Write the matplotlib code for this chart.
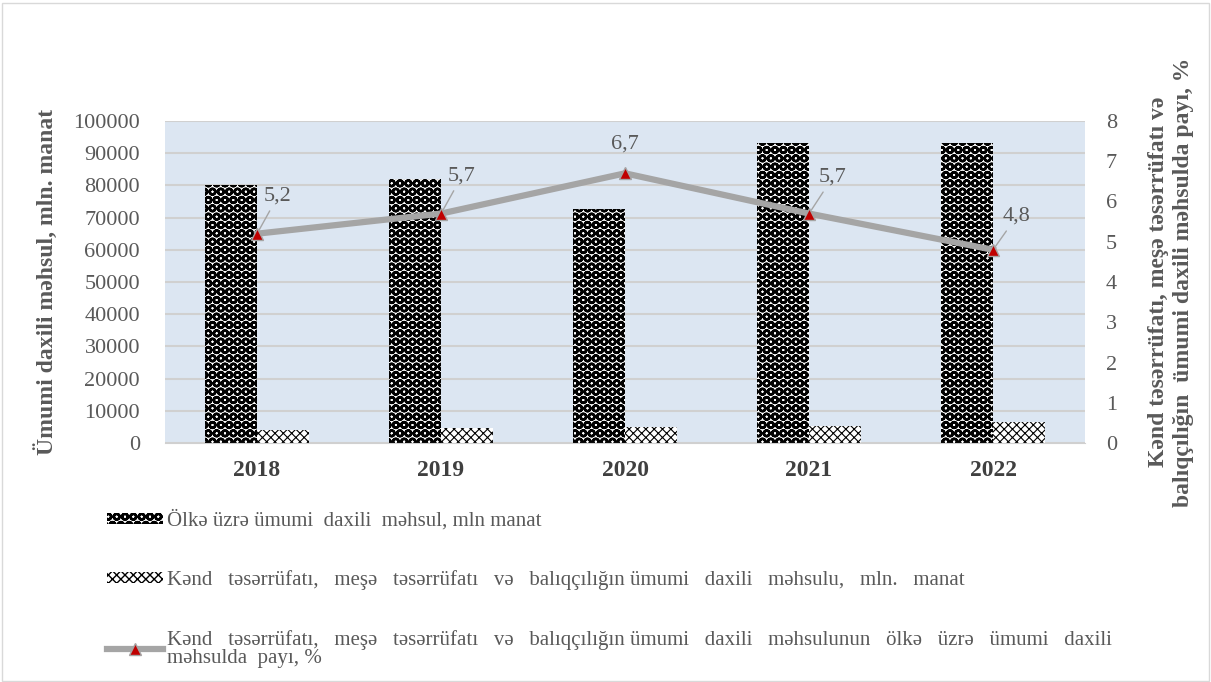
import matplotlib.pyplot as plt
import numpy as np
from matplotlib.patches import Patch, Rectangle
from matplotlib.lines import Line2D

years = ["2018", "2019", "2020", "2021", "2022"]
gdp_total = [80100, 81900, 72600, 93200, 93200]
gdp_agri = [4100, 4700, 4900, 5300, 6400]
agri_share = [5.2, 5.7, 6.7, 5.7, 4.8]
share_labels = ["5,2", "5,7", "6,7", "5,7", "4,8"]
# label offsets (points) relative to the marker
label_offsets = [(15, 27), (15, 27), (0, 21), (17, 26), (17, 24)]

label_total = "Ölkə üzrə ümumi  daxili  məhsul, mln manat"
label_agri = ("Kənd   təsərrüfatı,   meşə   təsərrüfatı   və   balıqçılığın ümumi   daxili   "
              "məhsulu,   mln.   manat")
label_share = ("Kənd   təsərrüfatı,   meşə   təsərrüfatı   və   balıqçılığın ümumi   daxili   "
               "məhsulunun   ölkə   üzrə   ümumi   daxili\nməhsulda  payı, %")

plt.rcParams["font.family"] = ["Liberation Serif", "DejaVu Serif"]
text_gray = "#595959"

fig = plt.figure(figsize=(12.11, 6.82), dpi=100)
ax = fig.add_axes([0.1363, 0.3504, 0.7597, 0.4722])
ax.set_facecolor("#DCE6F2")

x = np.arange(len(years))
width = 0.283

b1 = ax.bar(x - width / 2, gdp_total, width=width, color="white", edgecolor="black",
            hatch="OO", linewidth=0, zorder=2)
b2 = ax.bar(x + width / 2, gdp_agri, width=width, color="white", edgecolor="black",
            hatch="xxxx", linewidth=0, zorder=2)
for p in b1:
    if hasattr(p, "set_hatch_linewidth"):
        p.set_hatch_linewidth(1.8)
for p in b2:
    if hasattr(p, "set_hatch_linewidth"):
        p.set_hatch_linewidth(0.8)

ax.set_xlim(-0.5, 4.5)
ax.set_ylim(0, 100000)
ax.set_yticks(np.arange(0, 100001, 10000))
ax.yaxis.grid(True, color="#D0D0D0", linewidth=1.5, zorder=0)
ax.set_axisbelow(True)
ax.set_xticks(x)
ax.set_xticklabels(years, fontsize=17, fontweight="bold", color="#404040")
ax.tick_params(axis="y", labelsize=16, colors=text_gray, length=0, pad=18)
ax.tick_params(axis="x", length=0, pad=12)
for s in ["top", "left", "right"]:
    ax.spines[s].set_visible(False)
ax.spines["bottom"].set_color("#D0D0D0")
ax.set_ylabel("Ümumi daxili məhsul, mln. manat", fontsize=17, fontweight="bold",
              color=text_gray, labelpad=11)

ax2 = ax.twinx()
ax2.plot(x, agri_share, color="#A5A5A5", linewidth=4.5, marker="^", markersize=9,
         markerfacecolor="#C00000", markeredgecolor="#A5A5A5", markeredgewidth=1, zorder=3)
ax2.set_ylim(0, 8)
ax2.set_yticks(range(0, 9))
ax2.tick_params(axis="y", labelsize=16, colors=text_gray, length=0, pad=15)
for s in ["top", "left", "right", "bottom"]:
    ax2.spines[s].set_visible(False)
ax2.set_ylabel("Kənd təsərrüfatı, meşə təsərrüfatı və\nbalıqçılığın  ümumi daxili məhsulda payı, %",
               fontsize=17, fontweight="bold", color=text_gray, labelpad=22, linespacing=1.3)

for xi, yi, lab, off in zip(x, agri_share, share_labels, label_offsets):
    arrow = None if off[0] == 0 else dict(arrowstyle="-", color="#A5A5A5", lw=1,
                                          shrinkA=2, shrinkB=3)
    ax2.annotate(lab, (xi, yi), xytext=off, textcoords="offset points",
                 ha="center", va="center",
                 fontsize=16, color=text_gray, arrowprops=arrow)

handles = [
    Patch(facecolor="white", edgecolor="black", hatch="OO", linewidth=0),
    Patch(facecolor="white", edgecolor="black", hatch="xxxx", linewidth=0),
    Line2D([0], [0], color="#A5A5A5", linewidth=4.5, marker="^", markersize=8,
           markerfacecolor="#C00000", markeredgecolor="#A5A5A5"),
]
leg = fig.legend(handles, [label_total, label_agri, label_share], loc="upper left",
                 bbox_to_anchor=(0.088, 0.252), frameon=False, fontsize=15,
                 handlelength=2.7, handleheight=0.45, handletextpad=0.2,
                 labelspacing=1.9, borderpad=0, borderaxespad=0)
for t in leg.get_texts():
    t.set_color(text_gray)
    t.set_linespacing(0.95)
for h in leg.legend_handles[:1]:
    if hasattr(h, "set_hatch_linewidth"):
        h.set_hatch_linewidth(1.8)

fig.add_artist(Rectangle((0.002, 0.002), 0.996, 0.994, transform=fig.transFigure,
                         fill=False, edgecolor="#D9D9D9", linewidth=1))

fig.savefig("out.png", dpi=100)
